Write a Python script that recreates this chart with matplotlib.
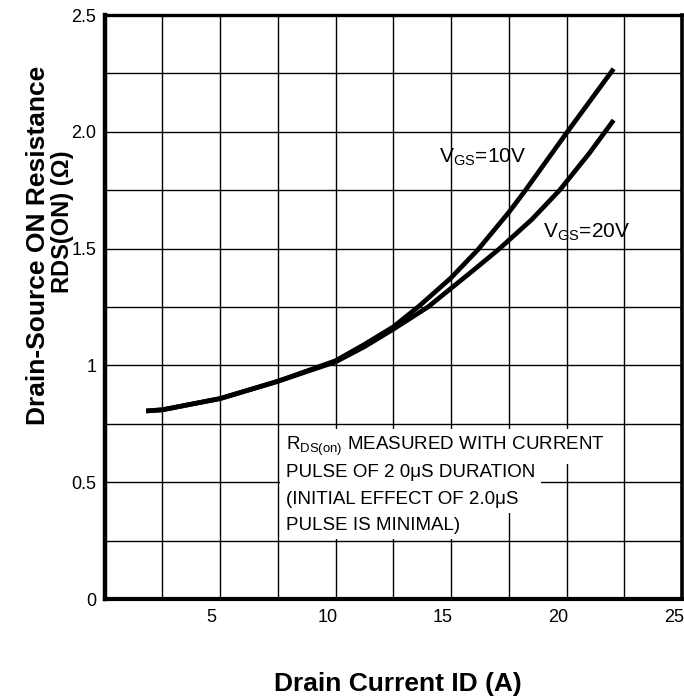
import matplotlib
matplotlib.use("Agg")
import matplotlib.pyplot as plt
from matplotlib.ticker import MultipleLocator
from matplotlib.transforms import ScaledTranslation

plt.rcParams['font.family'] = ['Liberation Sans', 'DejaVu Sans']

# drain current (A) vs on resistance (ohm)
id_10v = [1.8, 2.5, 5, 7.5, 10, 11.25, 12.5, 13.63, 15, 16.16, 17.5, 18.15, 20.0, 22.04]
rds_10v = [0.805, 0.81, 0.858, 0.932, 1.02, 1.09, 1.165, 1.255, 1.375, 1.495, 1.655, 1.74, 1.995, 2.27]

id_20v = [1.8, 2.5, 5, 7.5, 10, 11.25, 12.5, 14.0, 15.0, 16.0, 17.1, 18.5, 19.7, 21.0, 22.04]
rds_20v = [0.805, 0.81, 0.858, 0.932, 1.015, 1.08, 1.155, 1.25, 1.33, 1.41, 1.5, 1.625, 1.75, 1.91, 2.05]

x_ticks = [5, 10, 15, 20, 25]
y_ticks = [0, 0.5, 1, 1.5, 2.0, 2.5]
y_tick_labels = ['0', '0.5', '1', '1.5', '2.0', '2.5']

note_lines = [
    r'R$_\mathregular{DS(on)}$ MEASURED WITH CURRENT',
    'PULSE OF 2 0\u03bcS DURATION',
    '(INITIAL EFFECT OF 2.0\u03bcS',
    'PULSE IS MINIMAL)',
]
note_y = [0.652, 0.54, 0.428, 0.316]

fig = plt.figure(figsize=(6.84, 6.98), dpi=100)
ax = fig.add_axes([0.1529, 0.1418, 0.8442, 0.8367])

ax.plot(id_10v, rds_10v, color='black', lw=3.4, solid_capstyle='butt',
        solid_joinstyle='round', zorder=4)
ax.plot(id_20v, rds_20v, color='black', lw=3.4, solid_capstyle='butt',
        solid_joinstyle='round', zorder=4)

ax.set_xlim(0, 25)
ax.set_ylim(0, 2.5)
ax.set_xticks(x_ticks)
ax.set_yticks(y_ticks)
ax.set_yticklabels(y_tick_labels)
ax.xaxis.set_minor_locator(MultipleLocator(2.5))
ax.yaxis.set_minor_locator(MultipleLocator(0.25))
ax.grid(True, which='both', color='black', lw=1.0)
ax.set_axisbelow(True)
ax.tick_params(which='both', length=0)
ax.tick_params(axis='x', labelsize=13, pad=7)
ax.tick_params(axis='y', labelsize=13, pad=6)

for side, w in [('left', 3.2), ('bottom', 3.0), ('top', 2.4), ('right', 2.6)]:
    ax.spines[side].set_linewidth(w)
    ax.spines[side].set_zorder(6)

# x tick labels sit a bit left of their grid lines in the original
shift = ScaledTranslation(-6 / 72, 0, fig.dpi_scale_trans)
for lab in ax.get_xticklabels():
    lab.set_transform(lab.get_transform() + shift)

ax.text(14.5, 1.89, r'V$_\mathregular{GS}$=10V', fontsize=15, va='center', zorder=5)
ax.text(19.0, 1.57, r'V$_\mathregular{GS}$=20V', fontsize=15, va='center', zorder=5)

for line, yy in zip(note_lines, note_y):
    ax.text(7.84, yy, line, fontsize=13.5, va='center', ha='left', zorder=5,
            bbox=dict(boxstyle='square,pad=0.3', facecolor='white', edgecolor='none'))

fig.text(398 / 684, 1 - 684 / 698, 'Drain Current ID (A)', fontsize=19,
         fontweight='bold', ha='center', va='center')
fig.text(38 / 684, 1 - 245 / 698, 'Drain-Source ON Resistance', fontsize=19,
         fontweight='bold', rotation=90, ha='center', va='center')
fig.text(62 / 684, 1 - 222 / 698, 'RDS(ON) (\u03a9)', fontsize=17,
         fontweight='bold', rotation=90, ha='center', va='center')

fig.savefig('out.png', dpi=100)
